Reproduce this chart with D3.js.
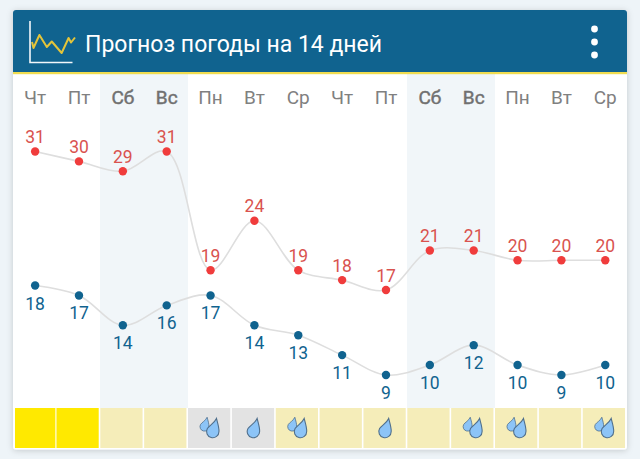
<!DOCTYPE html>
<html><head><meta charset="utf-8">
<script src="https://cdn.jsdelivr.net/npm/d3@7/dist/d3.min.js"></script>
<style>html,body{margin:0;padding:0;background:#eef4f8;overflow:hidden}svg{display:block;font-family:Roboto,sans-serif}</style>
</head><body><svg id="c" width="640" height="459"></svg>
<script>
const titleText = "Прогноз погоды на 14 дней";
const days = ["Чт","Пт","Сб","Вс","Пн","Вт","Ср","Чт","Пт","Сб","Вс","Пн","Вт","Ср"];
const weekend = [0,0,1,1,0,0,0,0,0,1,1,0,0,0];
const highs = [31,30,29,31,19,24,19,18,17,21,21,20,20,20];
const lows = [18,17,14,16,17,14,13,11,9,10,12,10,9,10];
const sky = ["sun","sun","pale","pale","grey","grey","pale","pale","pale","pale","pale","pale","pale","pale"];
const drops = [0,0,0,0,2,1,2,0,1,0,2,2,0,2];
const iconStep = [0,3,15,30,40,60,74,79,87];
const iconLevel = [11,5,18,6,11.5,0,15,10.5,15.5];

const svg = d3.select("#c");
const defs = svg.append("defs");
const f = defs.append("filter").attr("id","sh").attr("x","-5%").attr("y","-5%").attr("width","110%").attr("height","110%");
f.append("feDropShadow").attr("dx",0).attr("dy",1).attr("stdDeviation",3).attr("flood-color","#000").attr("flood-opacity",0.18);

const L = 13, R = 627, T = 10, B = 449.5;
const x = d3.scaleBand().domain(d3.range(14)).range([L, R]);
const cx = i => x(i) + x.bandwidth()/2 + 0.2;
const yHigh = d3.scaleLinear().domain([31,17]).range([151.5,290]);
const yLow = d3.scaleLinear().domain([18,9]).range([285.5,375]);
const skyColor = {sun:"#ffe900", pale:"#f5edb9", grey:"#e3e3e3"};

svg.append("rect").attr("x",L).attr("y",T).attr("width",R-L).attr("height",B-T).attr("rx",3).attr("fill","#fff").attr("filter","url(#sh)");

// weekend shading
svg.append("g").selectAll("rect").data(d3.range(14).filter(i=>weekend[i])).join("rect")
  .attr("x",i=>x(i)-0.7).attr("y",74).attr("width",x.bandwidth()+0.3).attr("height",334).attr("fill","#f1f6f9");

// header
svg.append("path").attr("fill","#10638f")
  .attr("d",`M${L} 72V13a3 3 0 0 1 3-3H${R-3}a3 3 0 0 1 3 3V72Z`);
svg.append("rect").attr("x",L).attr("y",72).attr("width",R-L).attr("height",2.2).attr("fill","#f0dc50");

// header icon
svg.append("path").attr("d","M30 21V62.5H72.5").attr("fill","none").attr("stroke","#f2f7fa").attr("stroke-width",1.6);
const ix = d3.scaleLinear().domain([0,87]).range([32,75]);
const iy = d3.scaleLinear().domain([0,18]).range([53,35]);
svg.append("path").datum(iconLevel).attr("fill","none").attr("stroke","#e3c43a").attr("stroke-width",2)
  .attr("stroke-linejoin","round")
  .attr("d",d3.line().x((d,i)=>ix(iconStep[i])).y(d=>iy(d)));
svg.append("text").attr("x",85).attr("y",52).attr("fill","#fff").attr("font-size",23).text(titleText);
svg.append("g").selectAll("circle").data([29,42,55]).join("circle")
  .attr("cx",594.5).attr("cy",d=>d).attr("r",3.4).attr("fill","#fff");

// day labels
svg.append("g").selectAll("text").data(days).join("text")
  .attr("x",(d,i)=>cx(i)).attr("y",104).attr("text-anchor","middle")
  .attr("font-size",19).attr("fill",(d,i)=>weekend[i]?"#707070":"#808080")
  .attr("stroke",(d,i)=>weekend[i]?"#707070":"none").attr("stroke-width",0.45).text(d=>d);

// lines
const line = s => d3.line().x((d,i)=>cx(i)).y(d=>s(d)).curve(d3.curveCatmullRom.alpha(0.5));
svg.append("path").datum(highs).attr("fill","none").attr("stroke","#dedede").attr("stroke-width",1.6).attr("d",line(yHigh));
svg.append("path").datum(lows).attr("fill","none").attr("stroke","#dedede").attr("stroke-width",1.6).attr("d",line(yLow));

// points + labels
svg.append("g").selectAll("circle").data(highs).join("circle").attr("cx",(d,i)=>cx(i)).attr("cy",d=>yHigh(d)).attr("r",4.2).attr("fill","#f03c3c");
svg.append("g").selectAll("circle").data(lows).join("circle").attr("cx",(d,i)=>cx(i)).attr("cy",d=>yLow(d)).attr("r",4.2).attr("fill","#10638f");
svg.append("g").selectAll("text").data(highs).join("text").attr("x",(d,i)=>cx(i)).attr("y",d=>yHigh(d)-8.5)
  .attr("text-anchor","middle").attr("font-size",17.5).attr("fill","#d9534f").text(d=>d);
svg.append("g").selectAll("text").data(lows).join("text").attr("x",(d,i)=>cx(i)).attr("y",d=>yLow(d)+24)
  .attr("text-anchor","middle").attr("font-size",17.5).attr("fill","#10638f").text(d=>d);

// bottom cells
svg.append("g").selectAll("rect").data(sky).join("rect")
  .attr("x",(d,i)=>i==0?15:x(i)-0.4).attr("y",408).attr("width",(d,i)=>i==0?x.bandwidth()-3.5:x.bandwidth()-1.6).attr("height",40).attr("fill",d=>skyColor[d]);

// drops
const dropPath = "M3.7 -13 C5 -8 6.5 -3.5 6.2 0 A6.2 6.2 0 1 1 -5.4 -3 C-3.5 -6 1.5 -8 3.7 -13Z";
const g = svg.append("g").selectAll("g").data(drops).join("g").attr("transform",(d,i)=>`translate(${cx(i)},428)`);
g.each(function(n){
  const s = d3.select(this);
  const style = p=>p.attr("d",dropPath).attr("fill","#8cc4f7").attr("stroke","#4f6f8c").attr("stroke-width",1.1);
  if(n==1) s.append("path").attr("transform","translate(-1,3.5)").call(style);
  if(n==2){
    s.append("path").attr("transform","translate(-6.1,-1.4) scale(0.72)").call(style);
    s.append("path").attr("transform","translate(2.2,3.5)").call(style);
  }
});
</script></body></html>
